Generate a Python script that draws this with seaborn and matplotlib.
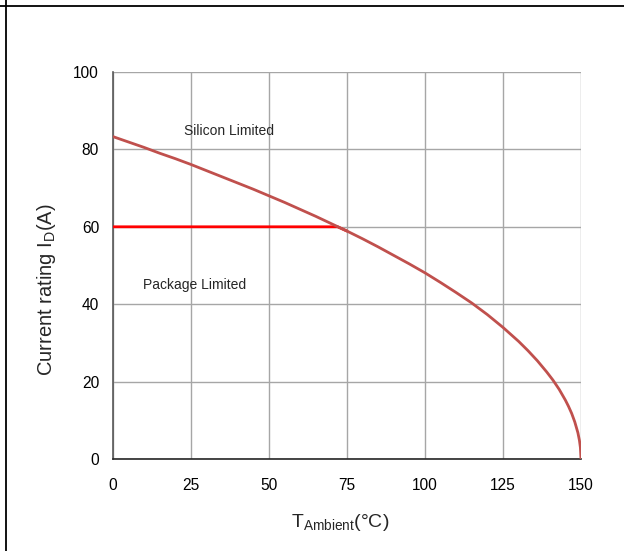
import pandas as pd
import matplotlib.pyplot as plt
import seaborn as sns
from matplotlib.lines import Line2D

# Valeurs
silicon_temp = [0, 5, 10, 15, 20, 25, 30, 35, 40, 45, 50, 55, 60, 65, 70, 75, 80, 85, 90, 95,
                100, 105, 110, 115, 120, 125, 130, 133, 136, 139, 141, 143, 145, 146, 147, 148,
                149, 149.5, 149.8, 150]
silicon_current = [83.3, 81.9, 80.5, 79.0, 77.6, 76.1, 74.5, 72.9, 71.3, 69.7, 68.0, 66.3, 64.5,
                   62.7, 60.8, 58.9, 56.9, 54.8, 52.6, 50.4, 48.1, 45.6, 43.0, 40.3, 37.3, 34.0,
                   30.4, 28.0, 25.4, 22.5, 20.4, 18.0, 15.2, 13.6, 11.8, 9.6, 6.8, 4.8, 3.0, 0]
package_temp = [0, 72, 75]
package_current = [60, 60, 58.9]

x_ticks = [0, 25, 50, 75, 100, 125, 150]
y_ticks = [0, 20, 40, 60, 80, 100]

sns.set_style("white")
plt.rcParams['font.family'] = ['Liberation Sans', 'DejaVu Sans']
plt.rcParams['mathtext.fontset'] = 'custom'
plt.rcParams['mathtext.rm'] = 'Liberation Sans'
plt.rcParams['mathtext.it'] = 'Liberation Sans'

df_si = pd.DataFrame({'temp': silicon_temp, 'current': silicon_current})
df_pk = pd.DataFrame({'temp': package_temp, 'current': package_current})

fig = plt.figure(figsize=(6.24, 5.51), dpi=100)
ax = fig.add_axes([113 / 624, 1 - 459 / 551, 468 / 624, 387 / 551])

sns.lineplot(x='temp', y='current', data=df_pk, color='#FF0000', linewidth=2, ax=ax, zorder=3)
sns.lineplot(x='temp', y='current', data=df_si, color='#C0504D', linewidth=2, ax=ax, zorder=4)

ax.set_xlim(0, 150)
ax.set_ylim(0, 100)
ax.set_xticks(x_ticks)
ax.set_yticks(y_ticks)
ax.grid(True, color='#A6A6A6', linewidth=1)
ax.tick_params(axis='both', length=0, labelsize=11.2, colors='black')
ax.tick_params(axis='x', pad=14)
ax.tick_params(axis='y', pad=10)
for side in ['top', 'right']:
    ax.spines[side].set_visible(False)
ax.spines['left'].set_color('#595959')
ax.spines['left'].set_linewidth(1.2)
ax.spines['bottom'].set_color('#262626')
ax.spines['bottom'].set_linewidth(1.2)

ax.text(37.3, 84.7, 'Silicon Limited', fontsize=10, ha='center', va='center')
ax.text(26, 45, 'Package Limited', fontsize=10, ha='center', va='center')

ax.set_xlabel(r'T$_{\mathrm{Ambient}}$(°C)', fontsize=14)
ax.set_ylabel(r'Current rating I$_{\mathrm{D}}$(A)', fontsize=14.5)
ax.xaxis.set_label_coords(0.485, -0.137)
ax.yaxis.set_label_coords(-0.118, 0.437)

# Cadre autour de la figure
fig.add_artist(Line2D([0, 1], [1 - 6 / 551, 1 - 6 / 551], color='black', linewidth=1.3, transform=fig.transFigure))
fig.add_artist(Line2D([6 / 624, 6 / 624], [0, 1], color='black', linewidth=1.3, transform=fig.transFigure))

fig.savefig('out.png', dpi=100)
